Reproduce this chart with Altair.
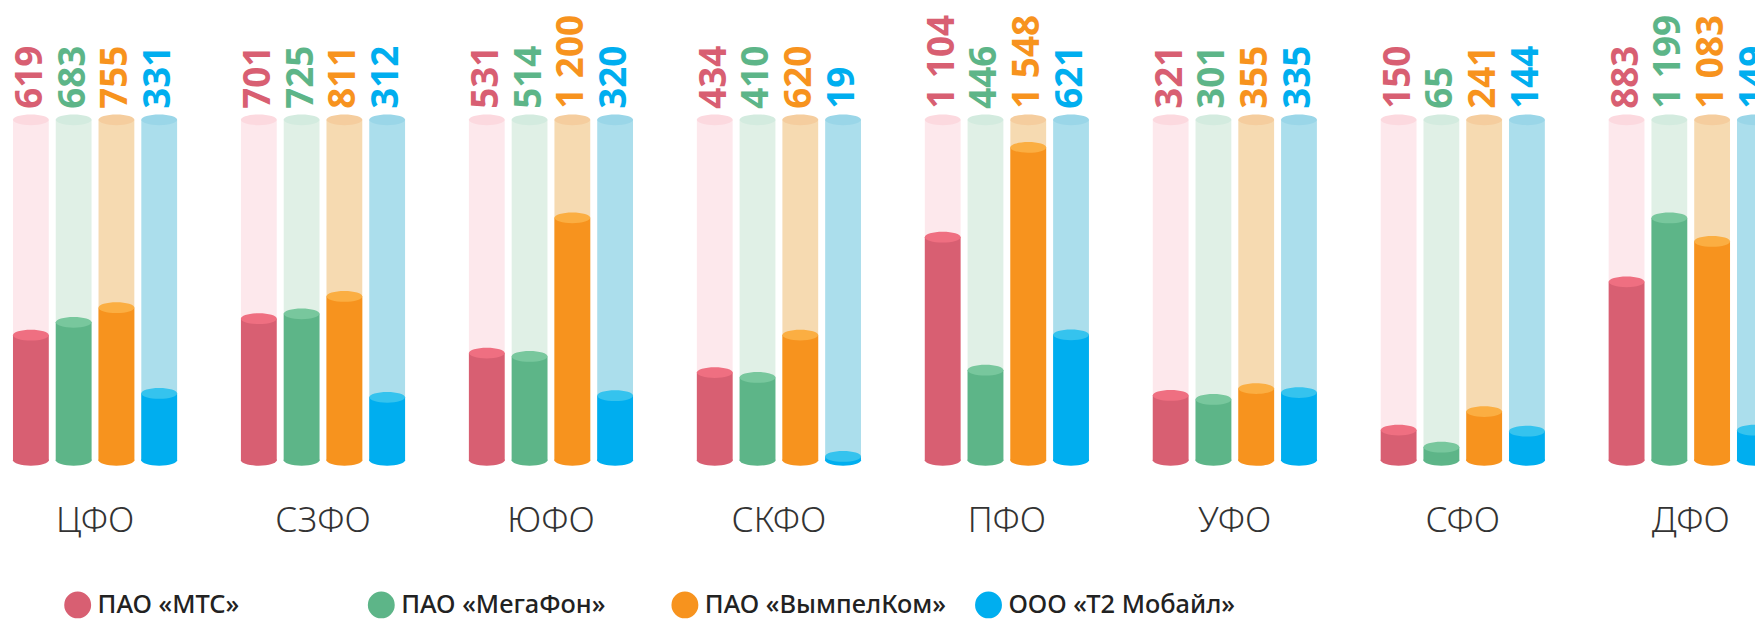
import altair as alt
import pandas as pd

REGIONS = ["ЦФО", "СЗФО", "ЮФО", "СКФО", "ПФО", "УФО", "СФО", "ДФО"]
OPERATORS = ["ПАО «МТС»", "ПАО «МегаФон»", "ПАО «ВымпелКом»", "ООО «Т2 Мобайл»"]
MTS = [619, 701, 531, 434, 1104, 321, 150, 883]
MEGAFON = [683, 725, 514, 410, 446, 301, 65, 1199]
BEELINE = [755, 811, 1200, 620, 1548, 355, 241, 1083]
T2 = [331, 312, 320, 19, 621, 335, 144, 149]
BG_VALUE = 1685   # full-scale level of the pale background cylinders
Y_MAX = 2231

# styles
BODY = ["#D85F72", "#5DB588", "#F7931E", "#00AEEF"]
TOP = ["#EF6F81", "#78C79D", "#FBAE42", "#35C3EE"]
BG_BODY = ["#FDE8EC", "#E0F0E6", "#F6DAB1", "#ABDEEC"]
BG_TOP = ["#FCD9DF", "#D3EBDF", "#F5CD9E", "#9AD6E8"]
ELLIPSE = ("M-1,0 C-1,-0.1657 -0.5523,-0.3 0,-0.3 C0.5523,-0.3 1,-0.1657 1,0 "
           "C1,0.1657 0.5523,0.3 0,0.3 C-0.5523,0.3 -1,0.1657 -1,0 Z")
FONT = "Noto Sans"

rows = []
for op, vals in zip(OPERATORS, [MTS, MEGAFON, BEELINE, T2]):
    for r, v in zip(REGIONS, vals):
        rows.append({"region": r, "operator": op, "value": v, "bg": BG_VALUE,
                     "label": f"{v:,}".replace(",", " ")})
df = pd.DataFrame(rows)

x = alt.X("region:N", sort=REGIONS,
          scale=alt.Scale(range=[5, 5 + 229 * (8 - 0.28)], paddingInner=0.28, paddingOuter=0),
          axis=alt.Axis(title=None, domain=False, ticks=False, grid=False, labelAngle=0,
                        labelFontSize=35, labelFont=FONT, labelFontWeight=300,
                        labelColor="#333333", labelBaseline="middle", labelPadding=60))
xo = alt.XOffset("operator:N", sort=OPERATORS,
                 scale=alt.Scale(paddingInner=0.163, paddingOuter=0))
yscale = alt.Scale(domain=[0, Y_MAX], nice=False, zero=True)


def col(rng, legend=None):
    return alt.Color("operator:N", sort=OPERATORS,
                     scale=alt.Scale(domain=OPERATORS, range=rng), legend=legend)


base = alt.Chart(df).encode(x=x, xOffset=xo)

bg_rect = base.mark_bar().encode(
    y=alt.Y("bg:Q", scale=yscale, axis=None), color=col(BG_BODY))
bg_top = base.mark_point(filled=True, shape=ELLIPSE, size=1296, opacity=1, strokeWidth=0).encode(
    y=alt.Y("bg:Q", scale=yscale, axis=None), color=col(BG_TOP))
fg_bottom = base.mark_point(filled=True, shape=ELLIPSE, size=1296, opacity=1, strokeWidth=0).encode(
    y=alt.Y(datum=0, scale=yscale, axis=None), color=col(BODY))
legend = alt.Legend(title=None, orient="none", legendX=56, legendY=584,
                    direction="horizontal", columns=4, gridAlign="all",
                    symbolType="circle", symbolSize=730, symbolStrokeWidth=0,
                    symbolOpacity=1, labelFontSize=25.5, labelFont=FONT,
                    labelColor="#222222", labelFontWeight=500, labelOffset=6,
                    columnPadding=28, padding=0, labelLimit=400)
fg_rect = base.mark_bar().encode(
    y=alt.Y("value:Q", scale=yscale, axis=None), color=col(BODY, legend))
fg_top = base.mark_point(filled=True, shape=ELLIPSE, size=1296, opacity=1, strokeWidth=0).encode(
    y=alt.Y("value:Q", scale=yscale, axis=None), color=col(TOP))
labels = base.mark_text(angle=270, align="left", baseline="middle", dx=11,
                        font=FONT, fontSize=37, fontWeight="bold").encode(
    y=alt.Y("bg:Q", scale=yscale, axis=None), text="label:N", color=col(BODY))

chart = alt.layer(bg_rect, bg_top, fg_bottom, fg_rect, fg_top, labels).resolve_scale(
    color="independent"
).properties(
    width=1755, height=453,
    autosize=alt.AutoSizeParams(type="none"),
    padding={"left": 0, "top": 0, "right": 0, "bottom": 160},
    background="white",
).configure_view(stroke=None)

chart.save("out.html", embed_options={"renderer": "svg", "actions": False})
